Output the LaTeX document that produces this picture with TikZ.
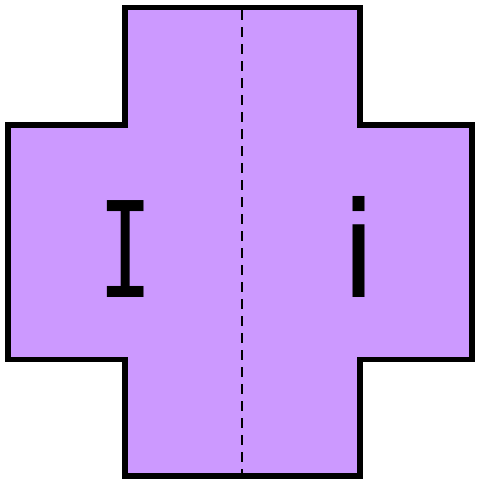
\documentclass[tikz,border=0pt]{standalone}
\usepackage{fontspec}
\newfontfamily\monofnt{DejaVu Sans Mono}
\newfontfamily\sansfnt{DejaVu Sans}
\definecolor{crossfill}{HTML}{CC99FF}
\tikzset{
    outline/.style={draw=black, line width=5.5pt, fill=crossfill, line join=miter},
    fold/.style={line width=2pt, dash pattern=on 10pt off 7pt},
    glyph/.style={inner sep=0pt, anchor=base, font=\fontsize{133}{133}\selectfont}
}
\begin{document}
\begin{tikzpicture}[x=1pt, y=-1pt]
    \useasboundingbox (0,0) rectangle (477,480);
    \draw[outline] (125,7.5) -- (360,7.5) -- (360,125) -- (472,125) -- (472,359.5)
        -- (360,359.5) -- (360,476) -- (125,476) -- (125,359.5) -- (8,359.5)
        -- (8,125) -- (125,125) -- cycle;
    \coordinate (foldtop) at (241.5,10);
    \coordinate (foldbot) at (241.5,473);
    \draw[fold] (foldtop) -- (foldbot);
    \node[glyph, xscale=0.68] (upper) at (126,297) {\monofnt I};
    \node[glyph] (lower) at (359,297) {\sansfnt i};
\end{tikzpicture}
\end{document}
